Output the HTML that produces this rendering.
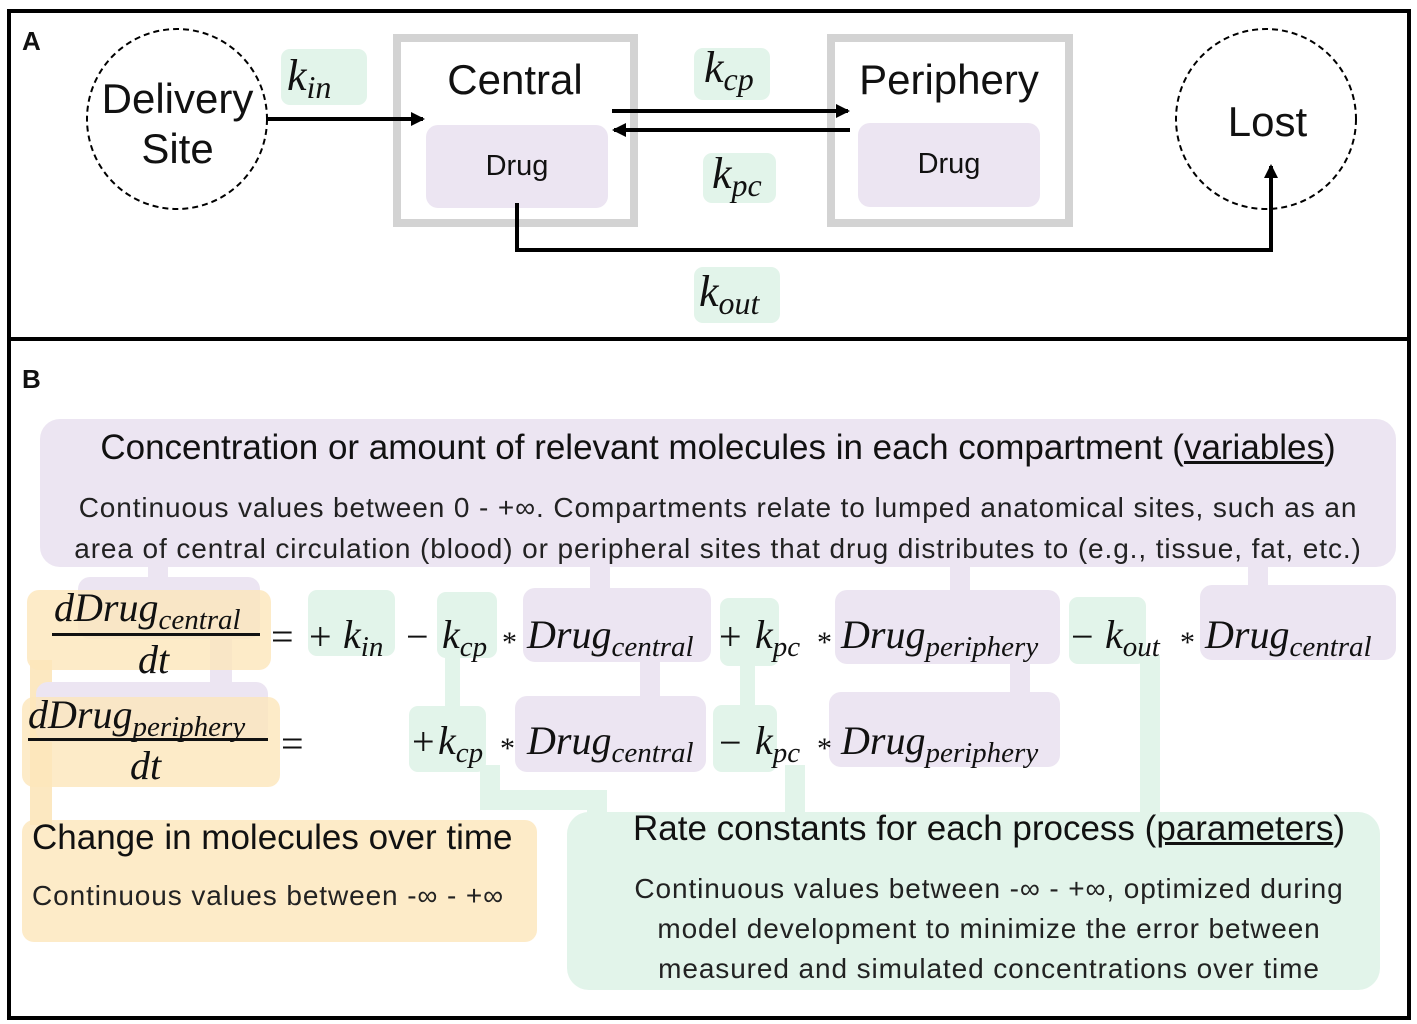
<!DOCTYPE html>
<html><head><meta charset="utf-8"><style>
body{margin:0;background:#fff;}
#c{position:relative;width:1417px;height:1024px;overflow:hidden;font-family:"Liberation Sans",sans-serif;color:#111;}
.a{position:absolute;}
.g{position:absolute;background:#e2f4ea;border-radius:9px;}
.p{position:absolute;background:#ece5f2;border-radius:12px;}
.y{position:absolute;background:rgba(252,230,186,0.8);border-radius:12px;}
.m{position:absolute;font-family:"Liberation Serif",serif;font-style:italic;font-size:40px;white-space:nowrap;line-height:1;}
.m sub{font-size:29px;vertical-align:-8px;}
.o{position:absolute;font-family:"Liberation Serif",serif;font-size:40px;line-height:1;}
.s{position:absolute;font-family:"Liberation Serif",serif;font-size:30px;line-height:1;}
.t{position:absolute;white-space:nowrap;text-align:center;}
</style></head><body><div id="c">
<div class="a" style="left:7px;top:9px;width:1396px;height:324px;border:4px solid #000;"></div>
<div class="a" style="left:7px;top:337px;width:1396px;height:675px;border:4px solid #000;"></div>
<div class="a" style="left:22px;top:26px;font-weight:bold;font-size:26px;">A</div>
<div class="a" style="left:22px;top:364px;font-weight:bold;font-size:26px;">B</div>

<div class="g" style="left:281px;top:49px;width:86px;height:56px;"></div>
<div class="g" style="left:694px;top:48px;width:76px;height:52px;"></div>
<div class="g" style="left:703px;top:153px;width:73px;height:50px;"></div>
<div class="g" style="left:694px;top:267px;width:86px;height:56px;"></div>
<div class="a" style="left:393px;top:34px;width:229px;height:177px;border:8px solid #d3d3d3;"></div>
<div class="a" style="left:827px;top:34px;width:230px;height:177px;border:8px solid #d3d3d3;"></div>
<div class="p" style="left:426px;top:125px;width:182px;height:83px;"></div>
<div class="p" style="left:858px;top:123px;width:182px;height:84px;"></div>
<svg class="a" style="left:0;top:0" width="1417" height="340">
<defs><marker id="ar" markerWidth="14" markerHeight="14" refX="12" refY="7" orient="auto" markerUnits="userSpaceOnUse"><path d="M0,0 L14,7 L0,14 z" fill="#000"/></marker></defs>
<circle cx="177" cy="119" r="90" fill="none" stroke="#000" stroke-width="2" stroke-dasharray="6,4"/>
<circle cx="1266" cy="119" r="90" fill="none" stroke="#000" stroke-width="2" stroke-dasharray="6,4"/>
<g stroke="#000" stroke-width="4" fill="none">
<path d="M267 119 H423" marker-end="url(#ar)"/>
<path d="M612 111 H848" marker-end="url(#ar)"/>
<path d="M850 130 H614" marker-end="url(#ar)"/>
<path d="M517 203 V250 H1271 V166" marker-end="url(#ar)"/>
</g>
</svg>
<div class="t" style="left:90px;top:74px;width:175px;font-size:42px;line-height:50px;">Delivery<br>Site</div>
<div class="t" style="left:1180px;top:98px;width:175px;font-size:42px;">Lost</div>
<div class="t" style="left:400px;top:56px;width:230px;font-size:42px;">Central</div>
<div class="t" style="left:834px;top:56px;width:230px;font-size:42px;">Periphery</div>
<div class="t" style="left:426px;top:150px;width:182px;font-size:29px;">Drug</div>
<div class="t" style="left:858px;top:148px;width:182px;font-size:29px;">Drug</div>
<div class="m" style="left:287px;top:54px;font-size:44px;">k<sub style="font-size:32px">in</sub></div>
<div class="m" style="left:704px;top:46px;font-size:44px;">k<sub style="font-size:32px">cp</sub></div>
<div class="m" style="left:712px;top:152px;font-size:44px;">k<sub style="font-size:32px">pc</sub></div>
<div class="m" style="left:699px;top:270px;font-size:44px;">k<sub style="font-size:32px">out</sub></div>

<!-- connectors -->
<div class="a" style="left:148px;top:560px;width:20px;height:35px;background:#ece5f2;"></div>
<div class="a" style="left:590px;top:560px;width:20px;height:35px;background:#ece5f2;"></div>
<div class="a" style="left:950px;top:560px;width:20px;height:35px;background:#ece5f2;"></div>
<div class="a" style="left:1248px;top:560px;width:20px;height:30px;background:#ece5f2;"></div>
<div class="a" style="left:640px;top:655px;width:20px;height:45px;background:#ece5f2;"></div>
<div class="a" style="left:1010px;top:655px;width:20px;height:42px;background:#ece5f2;"></div>
<div class="a" style="left:445px;top:650px;width:15px;height:60px;background:#e2f4ea;"></div>
<div class="a" style="left:740px;top:660px;width:15px;height:50px;background:#e2f4ea;"></div>
<div class="a" style="left:480px;top:765px;width:20px;height:45px;background:#e2f4ea;"></div>
<div class="a" style="left:480px;top:790px;width:127px;height:20px;background:#e2f4ea;"></div>
<div class="a" style="left:587px;top:790px;width:20px;height:30px;background:#e2f4ea;"></div>
<div class="a" style="left:785px;top:765px;width:20px;height:50px;background:#e2f4ea;"></div>
<div class="a" style="left:1140px;top:655px;width:20px;height:160px;background:#e2f4ea;"></div>
<div class="a" style="left:30px;top:660px;width:22px;height:165px;background:rgba(252,230,186,0.9);"></div>
<div class="a" style="left:210px;top:630px;width:22px;height:70px;background:#ece5f2;"></div>

<div class="p" style="left:40px;top:419px;width:1356px;height:148px;border-radius:20px;"></div>
<div class="t" style="left:40px;top:428px;width:1356px;font-size:35px;">Concentration or amount of relevant molecules in each compartment (<u>variables</u>)</div>
<div class="t" style="left:40px;top:487px;width:1356px;font-size:28px;letter-spacing:0.9px;line-height:41px;color:#222;">Continuous values between 0 - +∞. Compartments relate to lumped anatomical sites, such as an<br>area of central circulation (blood) or peripheral sites that drug distributes to (e.g., tissue, fat, etc.)</div>

<div class="y" style="left:22px;top:820px;width:515px;height:122px;"></div>
<div class="a" style="left:32px;top:818px;font-size:35px;">Change in molecules over time</div>
<div class="a" style="left:32px;top:880px;font-size:28px;letter-spacing:0.9px;color:#222;">Continuous values between -∞ - +∞</div>

<div class="g" style="left:567px;top:812px;width:813px;height:178px;border-radius:22px;"></div>
<div class="t" style="left:567px;top:809px;width:844px;font-size:35px;">Rate constants for each process (<u>parameters</u>)</div>
<div class="t" style="left:567px;top:869px;width:844px;font-size:28px;letter-spacing:0.9px;line-height:40px;color:#222;">Continuous values between -∞ - +∞, optimized during<br>model development to minimize the error between<br>measured and simulated concentrations over time</div>

<!-- equation boxes -->
<div class="p" style="left:78px;top:577px;width:182px;height:62px;"></div>
<div class="y" style="left:27px;top:590px;width:244px;height:80px;"></div>
<div class="p" style="left:36px;top:682px;width:232px;height:60px;"></div>
<div class="y" style="left:22px;top:697px;width:258px;height:90px;"></div>
<div class="g" style="left:308px;top:590px;width:87px;height:66px;"></div>
<div class="g" style="left:437px;top:592px;width:60px;height:66px;"></div>
<div class="p" style="left:523px;top:588px;width:188px;height:74px;"></div>
<div class="g" style="left:720px;top:598px;width:59px;height:68px;"></div>
<div class="p" style="left:835px;top:590px;width:225px;height:74px;"></div>
<div class="g" style="left:1069px;top:597px;width:77px;height:67px;"></div>
<div class="p" style="left:1200px;top:585px;width:196px;height:75px;"></div>
<div class="g" style="left:409px;top:706px;width:77px;height:66px;"></div>
<div class="p" style="left:515px;top:696px;width:191px;height:76px;"></div>
<div class="g" style="left:713px;top:705px;width:64px;height:67px;"></div>
<div class="p" style="left:829px;top:692px;width:231px;height:75px;"></div>

<!-- equations -->
<div class="m" style="left:54px;top:588px;">dDrug<sub>central</sub></div>
<div class="a" style="left:52px;top:633px;width:208px;height:3px;background:#111;"></div>
<div class="m" style="left:138px;top:640px;">dt</div>
<div class="m" style="left:28px;top:695px;">dDrug<sub>periphery</sub></div>
<div class="a" style="left:28px;top:738px;width:240px;height:3px;background:#111;"></div>
<div class="m" style="left:130px;top:746px;">dt</div>

<div class="o" style="left:271px;top:617px;">=</div>
<div class="o" style="left:309px;top:617px;">+</div>
<div class="m" style="left:343px;top:615px;">k<sub>in</sub></div>
<div class="o" style="left:406px;top:617px;">−</div>
<div class="m" style="left:442px;top:615px;">k<sub>cp</sub></div>
<div class="s" style="left:502px;top:628px;">*</div>
<div class="m" style="left:527px;top:615px;">Drug<sub>central</sub></div>
<div class="o" style="left:719px;top:617px;">+</div>
<div class="m" style="left:755px;top:615px;">k<sub>pc</sub></div>
<div class="s" style="left:817px;top:628px;">*</div>
<div class="m" style="left:841px;top:615px;">Drug<sub>periphery</sub></div>
<div class="o" style="left:1071px;top:617px;">−</div>
<div class="m" style="left:1105px;top:615px;">k<sub>out</sub></div>
<div class="s" style="left:1180px;top:628px;">*</div>
<div class="m" style="left:1205px;top:615px;">Drug<sub>central</sub></div>

<div class="o" style="left:281px;top:724px;">=</div>
<div class="o" style="left:412px;top:722px;">+</div>
<div class="m" style="left:438px;top:721px;">k<sub>cp</sub></div>
<div class="s" style="left:500px;top:734px;">*</div>
<div class="m" style="left:527px;top:721px;">Drug<sub>central</sub></div>
<div class="o" style="left:719px;top:723px;">−</div>
<div class="m" style="left:755px;top:721px;">k<sub>pc</sub></div>
<div class="s" style="left:817px;top:734px;">*</div>
<div class="m" style="left:841px;top:721px;">Drug<sub>periphery</sub></div>
</div></body></html>
